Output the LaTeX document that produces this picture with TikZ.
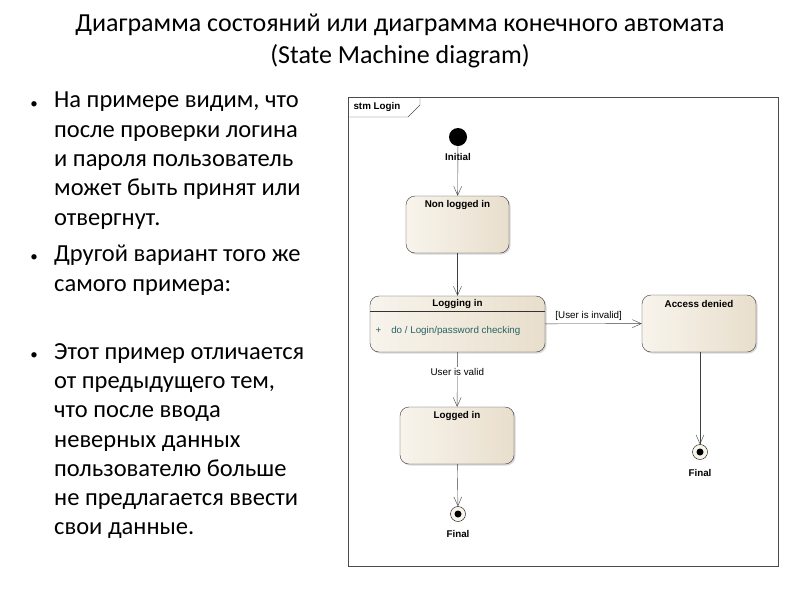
\documentclass[tikz,border=0pt]{standalone}
\usepackage{fontspec}
\setmainfont{Carlito}
\newfontfamily\diagfont{Liberation Sans}
\usetikzlibrary{shadows,arrows.meta}
\definecolor{stateleft}{RGB}{248,244,236}
\definecolor{stateright}{RGB}{232,222,204}
\definecolor{optext}{RGB}{40,100,100}
\begin{document}
\begin{tikzpicture}[x=1pt,y=-1pt,
	state/.style={draw=black!80,rounded corners=9pt,left color=stateleft,right color=stateright,
		drop shadow={shadow xshift=1.5pt,shadow yshift=-1.5pt,opacity=0.3}},
	stitle/.style={font=\diagfont\bfseries\fontsize{9.8}{11}\selectfont},
	small/.style={font=\diagfont\fontsize{9.8}{11}\selectfont},
	trans/.style={draw=black!75,-{Straight Barb[length=9pt,width=8pt]}},
	lines/.style={align=left,anchor=north west,inner sep=0pt,font=\fontsize{24.5}{29.3}\selectfont}
]
	\useasboundingbox (0,0) rectangle (800,600);
	% title
	\node[font=\fontsize{26}{32}\selectfont,align=center] (title) at (400,41)
		{Диаграмма состояний или диаграмма конечного автомата\\(State Machine diagram)};
	% bullet text
	\node[lines] (b1) at (54,92) {На примере видим, что\\после проверки логина\\и пароля пользователь\\может быть принят или\\отвергнут.};
	\node[lines] (b2) at (54,245) {Другой вариант того же\\самого примера:};
	\node[lines] (b3) at (54,343) {Этот пример отличается\\от предыдущего тем,\\что после ввода\\неверных данных\\пользователю больше\\не предлагается ввести\\свои данные.};
	\foreach \y in {105,258,356}
		\node[font=\fontsize{15}{15}\selectfont] at (34,\y) {•};

	% frame
	\draw[black!70,fill=white] (348,97) rectangle (778,566);
	\draw[black!70] (348,117) -- (408,117) -- (420,105) -- (420,97);
	\node[stitle,anchor=west] (frame) at (350,107) {stm Login};

	% states
	\node[circle,fill=black,minimum size=18pt,inner sep=0pt] (init) at (458,137) {};
	\node[stitle] at (458,157) {Initial};
	\node[state,minimum width=103pt,minimum height=57pt] (nonlog) at (457.5,224.5) {};
	\node[stitle] at (457.5,205) {Non logged in};
	\node[state,minimum width=175pt,minimum height=56pt] (logging) at (457.5,324) {};
	\draw[black!80] (370,311) -- (545,311);
	\node[stitle] at (457.5,304) {Logging in};
	\node[small,text=optext,anchor=west] at (372,331) {+\hspace{10pt}do / Login/password checking};
	\node[state,minimum width=114pt,minimum height=57pt] (denied) at (699,323.5) {};
	\node[stitle] at (699,304) {Access denied};
	\node[state,minimum width=114pt,minimum height=57pt] (logged) at (457,435.5) {};
	\node[stitle] at (457,416) {Logged in};
	\node[circle,draw,fill=stateleft,minimum size=15pt,inner sep=0pt] (fin1) at (458,514) {};
	\fill (fin1) circle (3.5pt);
	\node[stitle] at (458,534) {Final};
	\node[circle,draw,fill=stateleft,minimum size=15pt,inner sep=0pt] (fin2) at (700,452) {};
	\fill (fin2) circle (3.5pt);
	\node[stitle] at (700,473) {Final};

	% transitions
	\draw[trans] (init) -- (nonlog);
	\draw[trans] (nonlog) -- (logging);
	\draw[trans] (logging) -- node[small,above,pos=0.45] {[User is invalid]} (denied);
	\draw[trans] (logging) -- node[small,fill=white,inner sep=1pt,pos=0.36] {User is valid} (logged);
	\draw[trans] (logged) -- (fin1);
	\draw[trans] (denied.south -| fin2) -- (fin2);
\end{tikzpicture}
\end{document}
